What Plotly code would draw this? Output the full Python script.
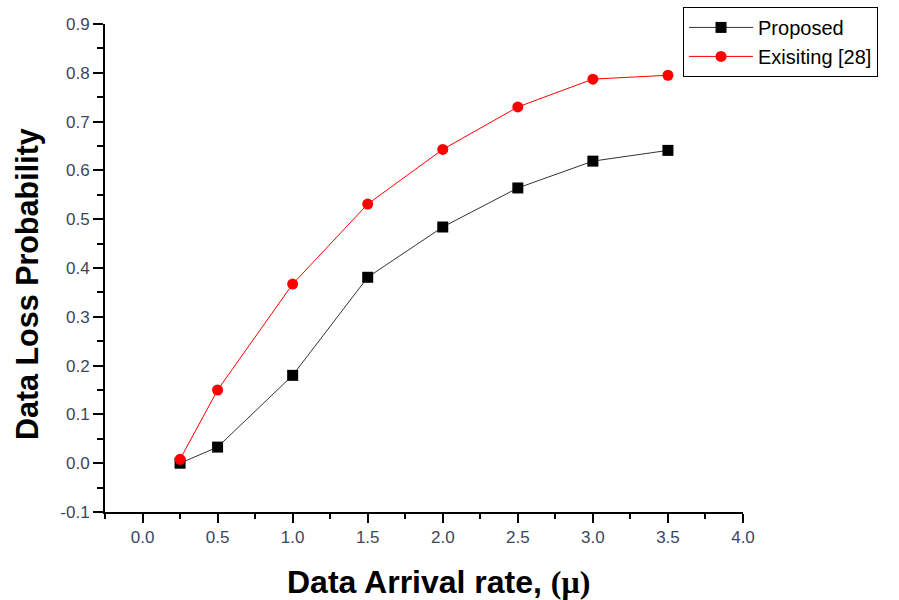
import plotly.graph_objects as go

x_vals = [0.25, 0.5, 1.0, 1.5, 2.0, 2.5, 3.0, 3.5]
proposed = [0.0, 0.033, 0.18, 0.381, 0.484, 0.564, 0.619, 0.641]
existing = [0.008, 0.150, 0.367, 0.531, 0.643, 0.730, 0.787, 0.795]

x_ticks = [0, 0.5, 1, 1.5, 2, 2.5, 3, 3.5, 4]
x_ticktext = ["0.0", "0.5", "1.0", "1.5", "2.0", "2.5", "3.0", "3.5", "4.0"]
y_ticks = [-0.1, 0.0, 0.1, 0.2, 0.3, 0.4, 0.5, 0.6, 0.7, 0.8, 0.9]
y_ticktext = ["-0.1", "0.0", "0.1", "0.2", "0.3", "0.4", "0.5", "0.6", "0.7", "0.8", "0.9"]

fig = go.Figure()
fig.add_trace(go.Scatter(x=x_vals, y=proposed, mode="lines+markers", name="Proposed",
                         line=dict(color="#333333", width=1),
                         marker=dict(symbol="square", size=11, color="black")))
fig.add_trace(go.Scatter(x=x_vals, y=existing, mode="lines+markers", name="Exisiting [28]",
                         line=dict(color="red", width=1),
                         marker=dict(symbol="circle", size=11, color="red")))

tickfont = dict(family="Liberation Sans, Arial", size=17, color="#3c4660")
fig.update_layout(
    width=899, height=600,
    plot_bgcolor="white", paper_bgcolor="white",
    margin=dict(l=105, r=156, t=24, b=88, autoexpand=False),
    showlegend=True,
    legend=dict(x=0.906, y=1.035, xanchor="left", yanchor="top",
                bordercolor="black", borderwidth=1, bgcolor="white",
                font=dict(family="Liberation Sans, Arial", size=20, color="black"),
                tracegroupgap=0, itemwidth=64),
    xaxis=dict(range=[-0.25, 4.0], tickvals=x_ticks, ticktext=x_ticktext, automargin=False,
               showgrid=False, zeroline=False, showline=True, linecolor="black", linewidth=2,
               ticks="outside", ticklen=9, tickwidth=2, tickcolor="black",
               minor=dict(dtick=0.25, tick0=0, ticks="outside", ticklen=5, tickwidth=2, tickcolor="black"),
               tickfont=tickfont),
    yaxis=dict(range=[-0.1, 0.9], tickvals=y_ticks, ticktext=y_ticktext, automargin=False,
               showgrid=False, zeroline=False, showline=True, linecolor="black", linewidth=2,
               ticks="outside", ticklen=10, tickwidth=2, tickcolor="black",
               minor=dict(dtick=0.05, tick0=0, ticks="outside", ticklen=6, tickwidth=2, tickcolor="black"),
               tickfont=tickfont),
    annotations=[
        dict(text='<b>Data Arrival rate, <span style="font-family:Liberation Serif, Times New Roman">(μ)</span></b>',
             xref="paper", yref="paper", x=0.522, y=-0.143, xanchor="center", yanchor="middle",
             showarrow=False, font=dict(family="Liberation Sans, Arial", size=32, color="black")),
        dict(text="<b>Data Loss Probability</b>", textangle=-90,
             xref="paper", yref="paper", x=0, xshift=-78, y=0.467, xanchor="center", yanchor="middle",
             showarrow=False, font=dict(family="Liberation Sans, Arial", size=30.5, color="black")),
    ],
)
fig.write_html("out.html", config={"displayModeBar": False},
               post_script="document.body.style.margin='0';")
